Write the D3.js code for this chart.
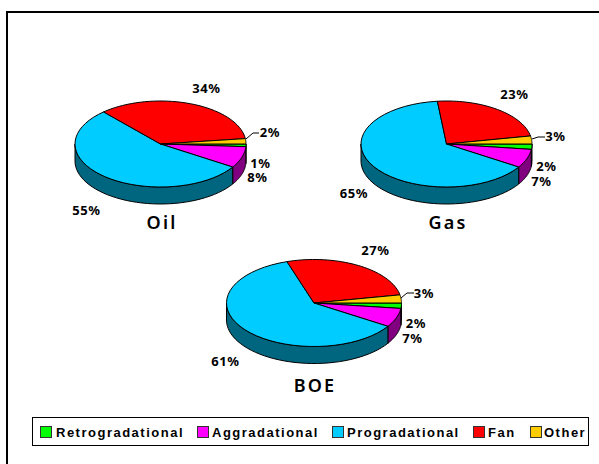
<!DOCTYPE html>
<html><head><meta charset="utf-8">
<script src="https://cdn.jsdelivr.net/npm/d3@7"></script>
<style>html,body{margin:0;padding:0;background:#fff}svg{display:block}</style></head>
<body><svg id="c" width="599" height="464"></svg>
<script>
const categories=["Retrogradational","Aggradational","Progradational","Fan","Other"];
const colors=["#00ff00","#ff00ff","#00ccff","#ff0000","#ffcc00"];
const sideColors=["#008000","#800080","#006680","#800000","#806600"];
const oilValues=[1,8,54.4,34.6,2];
const gasValues=[2,7,64.3,23.7,3];
const boeValues=[2,7,61,27,3];
const oilLabels=["1%","8%","55%","34%","2%"];
const gasLabels=["2%","7%","65%","23%","3%"];
const boeLabels=["2%","7%","61%","27%","3%"];
const labelFont="'Noto Sans',sans-serif";
const svg=d3.select("#c");
const frame=d3.path();frame.moveTo(7,464);frame.lineTo(7,12);frame.lineTo(599,12);
svg.append("path").attr("d",frame.toString()).attr("fill","none").attr("stroke","#000").attr("stroke-width",2);
const pieGen=d3.pie().sort(null).startAngle(Math.PI/2).endAngle(Math.PI*2.5);
const line=d3.line();
function drawPie(cfg){
  const {cx,cy,rx,ry,depth,values,labels,labelPos,title,titlePos,leader}=cfg;
  const g=svg.append("g").attr("transform",`translate(${cx},${cy})`);
  const P=a=>[rx*Math.sin(a),-ry*Math.cos(a)];
  const sample=(a0,a1)=>d3.range(0,41).map(i=>a0+(a1-a0)*i/40);
  const arcs=pieGen(values);
  arcs.forEach((d,i)=>{
    const a0=Math.max(d.startAngle,Math.PI/2),a1=Math.min(d.endAngle,Math.PI*1.5);
    if(a1<=a0)return;
    const top=sample(a0,a1).map(P);
    const bottom=top.map(p=>[p[0],p[1]+depth]).reverse();
    g.append("path").attr("d",line(top.concat(bottom))+"Z")
      .attr("fill",sideColors[i]).attr("stroke","#000").attr("stroke-width",1).attr("stroke-linejoin","round");
  });
  arcs.forEach((d,i)=>{
    const pts=[[0,0]].concat(sample(d.startAngle,d.endAngle).map(P));
    g.append("path").attr("d",line(pts)+"Z")
      .attr("fill",colors[i]).attr("stroke","#000").attr("stroke-width",1).attr("stroke-linejoin","round");
  });
  svg.append("path").attr("d",line(leader)).attr("fill","none").attr("stroke","#000").attr("stroke-width",1);
  labels.forEach((t,i)=>{
    svg.append("text").attr("x",labelPos[i][0]).attr("y",labelPos[i][1])
      .attr("text-anchor","middle").attr("font-family",labelFont).attr("font-weight",700)
      .attr("font-size",13).attr("letter-spacing",0.6).attr("fill","#000").text(t);
  });
  svg.append("text").attr("x",titlePos[0]).attr("y",titlePos[1]).attr("text-anchor","middle")
    .attr("font-family",labelFont).attr("font-weight",600).attr("font-size",18).attr("letter-spacing",2.2)
    .attr("fill","#000").text(title);
}
drawPie({cx:160.5,cy:144,rx:85.5,ry:43,depth:17,values:oilValues,labels:oilLabels,
  labelPos:[[260.5,167.5],[257.5,182],[86.5,215],[206.5,93],[270,137]],title:"Oil",titlePos:[162,229],
  leader:[[246,139],[253,133],[259,133]]});
drawPie({cx:446.5,cy:144,rx:85.5,ry:43,depth:17,values:gasValues,labels:gasLabels,
  labelPos:[[546.5,171],[541.5,185.5],[354,198],[514.5,99],[555.5,141]],title:"Gas",titlePos:[448,229],
  leader:[[532,139],[538,137],[545,137]]});
drawPie({cx:314,cy:303,rx:87.5,ry:43.5,depth:17,values:boeValues,labels:boeLabels,
  labelPos:[[416,328],[412.5,343],[225.5,366],[375.5,255],[424,298]],title:"BOE",titlePos:[315,392],
  leader:[[401,298],[407,293],[414,293]]});
const legendSwatchX=[40,197,332,473,530];
const legendTextX=[56,212,347,488,544];
const legend=svg.append("g");
legend.append("rect").attr("x",32.5).attr("y",417.5).attr("width",556).attr("height",28)
  .attr("fill","#fff").attr("stroke","#000").attr("stroke-width",1);
categories.forEach((c,i)=>{
  legend.append("rect").attr("x",legendSwatchX[i]+.5).attr("y",426.5).attr("width",11).attr("height",11)
    .attr("fill",colors[i]).attr("stroke","#333").attr("stroke-width",1);
  legend.append("text").attr("x",legendTextX[i]).attr("y",437).attr("font-family","'Liberation Sans',Arial,sans-serif")
    .attr("font-weight",700).attr("font-size",13).attr("letter-spacing",1.5).attr("fill","#000").text(c);
});
</script></body></html>
